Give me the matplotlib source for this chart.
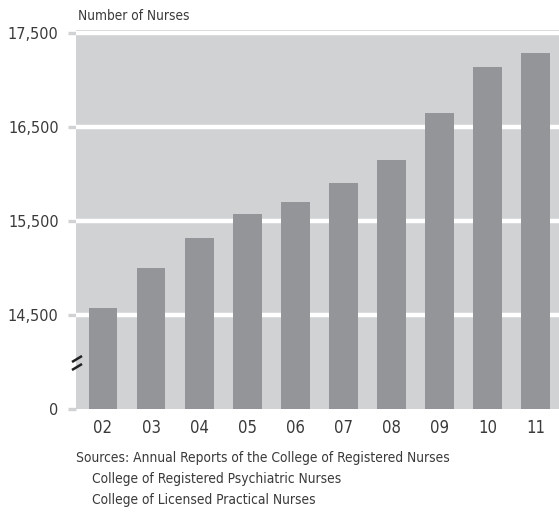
import matplotlib
matplotlib.use("Agg")
import matplotlib.pyplot as plt
from matplotlib import font_manager

years = ["02", "03", "04", "05", "06", "07", "08", "09", "10", "11"]
nurses = [14578, 14996, 15322, 15570, 15705, 15904, 16149, 16649, 17141, 17290]
tick_values = [0, 14500, 15500, 16500, 17500]
tick_labels = ["0", "14,500", "15,500", "16,500", "17,500"]
title = "Number of Nurses"
source_lines = ["Sources: Annual Reports of the College of Registered Nurses",
                "College of Registered Psychiatric Nurses",
                "College of Licensed Practical Nurses"]

names = {f.name for f in font_manager.fontManager.ttflist}
fam = ["Liberation Sans Narrow", "DejaVu Sans"] if "Liberation Sans Narrow" in names else ["DejaVu Sans"]
plt.rcParams['font.family'] = fam
stretch = 'normal' if fam[0] == "Liberation Sans Narrow" else 'condensed'

BREAK_BASE = 13500  # 0 is drawn at this position (broken axis)

def pos(v):
    return BREAK_BASE if v == 0 else v

txt = "#3a3a3a"
bg = "#d1d2d4"
bar_c = "#939598"

fig = plt.figure(figsize=(5.59, 5.12), dpi=100)
ax = fig.add_axes([76/559, 1-409/512, 1-76/559, (409-30)/512])
ax.set_facecolor(bg)
x = list(range(len(years)))
ax.bar(x, [v - BREAK_BASE for v in nurses], bottom=BREAK_BASE, width=0.6,
       color=bar_c, zorder=3)
for v in tick_values[1:]:
    ax.axhline(v, color="white", lw=3.2, zorder=2)
ax.set_xlim(-0.56, 9.48)
ax.set_ylim(BREAK_BASE, 17530)
ax.set_yticks([pos(v) for v in tick_values])
ax.set_yticklabels(tick_labels, fontsize=11.6, color=txt, fontstretch=stretch)
ax.set_xticks(x)
ax.set_xticklabels(years, fontsize=12, color=txt, fontstretch=stretch)
ax.tick_params(axis='y', length=5.5, width=2.4, color=bg, pad=7)
ax.tick_params(axis='x', length=0, pad=7.5)
for s in ax.spines.values():
    s.set_visible(False)

# break marks
for dy in (0, 8):
    y0 = 370 - dy
    fig.add_artist(plt.Line2D([72/559, 82/559], [1-(y0)/512, 1-(y0-6)/512],
                              color="#222222", lw=1.8, solid_capstyle='butt'))

fig.text(78/559, 1-16/512, title, fontsize=9.8, color=txt, va='center', fontstretch=stretch)
fig.text(76/559, 1-458/512, source_lines[0], fontsize=9.9, color=txt, va='center', fontstretch=stretch)
fig.text(92/559, 1-479/512, source_lines[1], fontsize=9.9, color=txt, va='center', fontstretch=stretch)
fig.text(92/559, 1-500/512, source_lines[2], fontsize=9.9, color=txt, va='center', fontstretch=stretch)

fig.savefig("out.png", dpi=100)
